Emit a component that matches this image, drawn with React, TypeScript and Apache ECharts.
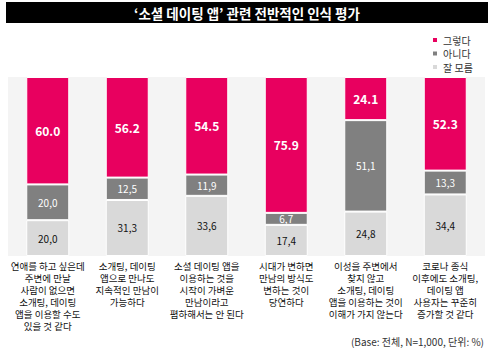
import React, { useEffect, useRef } from "react";
import * as echarts from "echarts";

const categories = [
  "연애를 하고 싶은데\n주변에 만날\n사람이 없으면\n소개팅, 데이팅\n앱을 이용할 수도\n있을 것 같다",
  "소개팅, 데이팅\n앱으로 만나도\n지속적인 만남이\n가능하다",
  "소셜 데이팅 앱을\n이용하는 것을\n시작이 가벼운\n만남이라고\n폄하해서는 안 된다",
  "시대가 변하면\n만남의 방식도\n변하는 것이\n당연하다",
  "이성을 주변에서\n찾지 않고\n소개팅, 데이팅\n앱을 이용하는 것이\n이해가 가지 않는다",
  "코로나 종식\n이후에도 소개팅,\n데이팅 앱\n사용자는 꾸준히\n증가할 것 같다",
];
const yesValues = [60.0, 56.2, 54.5, 75.9, 24.1, 52.3];
const noValues = [20.0, 12.5, 11.9, 6.7, 51.1, 13.3];
const unsureValues = [20.0, 31.3, 33.6, 17.4, 24.8, 34.4];
const seriesNames = ["그렇다", "아니다", "잘 모름"];
const titleText = "‘소셜 데이팅 앱’ 관련 전반적인 인식 평가";
const footnote = "(Base: 전체, N=1,000, 단위: %)";

const FONT = "'Noto Sans CJK KR', 'Noto Sans', sans-serif";

export default function App() {
  const ref = useRef<HTMLDivElement>(null);
  useEffect(() => {
    if (!ref.current) return;
    const chart = echarts.init(ref.current, undefined, { renderer: "svg" });
    const comma = (p: any) => Number(p.value).toFixed(1).replace(".", ",");
    const dot = (p: any) => Number(p.value).toFixed(1);
    chart.setOption({
      animation: false,
      backgroundColor: "#ffffff",
      textStyle: { fontFamily: FONT },
      grid: {
        left: 8,
        right: 9,
        top: 77,
        bottom: 99,
        show: true,
        backgroundColor: "#f4f4f4",
        borderWidth: 0,
      },
      legend: {
        data: [seriesNames[0], seriesNames[1], seriesNames[2]],
        orient: "vertical",
        left: 426,
        top: 29,
        itemWidth: 6,
        itemHeight: 6,
        itemGap: 1.5,
        icon: "rect",
        textStyle: { fontSize: 10, color: "#333", lineHeight: 12, fontFamily: FONT },
      },
      xAxis: {
        type: "category",
        data: categories,
        axisLine: { show: false },
        axisTick: { show: false },
        axisLabel: {
          interval: 0,
          margin: 4,
          fontSize: 9.5,
          lineHeight: 12,
          color: "#111",
          fontFamily: FONT,
        },
      },
      yAxis: {
        type: "value",
        min: 0,
        max: 100,
        show: false,
        splitLine: { show: false },
      },
      graphic: [
        {
          type: "rect",
          shape: { x: 6, y: 2, width: 482, height: 21 },
          style: { fill: "#000" },
        },
        {
          type: "text",
          x: 247,
          y: 12.5,
          style: {
            text: titleText,
            fill: "#fff",
            font: `bold 13.5px ${FONT}`,
            align: "center",
            verticalAlign: "middle",
          },
        },
        {
          type: "text",
          x: 484,
          y: 341,
          style: {
            text: footnote,
            fill: "#333",
            font: `10px ${FONT}`,
            align: "right",
            verticalAlign: "middle",
          },
        },
      ],
      series: [
        {
          name: seriesNames[2],
          type: "bar",
          stack: "all",
          data: unsureValues,
          barWidth: 43,
          itemStyle: { color: "#d9d9d9", borderColor: "#fff", borderWidth: 1 },
          label: {
            show: true,
            position: "inside",
            formatter: comma,
            color: "#111",
            fontSize: 10,
            fontFamily: FONT,
          },
        },
        {
          name: seriesNames[1],
          type: "bar",
          stack: "all",
          data: noValues,
          barWidth: 43,
          itemStyle: { color: "#808080", borderColor: "#fff", borderWidth: 1 },
          label: {
            show: true,
            position: "inside",
            formatter: comma,
            color: "#fff",
            fontSize: 10,
            fontFamily: FONT,
          },
        },
        {
          name: seriesNames[0],
          type: "bar",
          stack: "all",
          data: yesValues,
          barWidth: 43,
          itemStyle: { color: "#e8005f", borderColor: "#fff", borderWidth: 1 },
          label: {
            show: true,
            position: "inside",
            formatter: dot,
            color: "#fff",
            fontSize: 12,
            fontWeight: "bold",
            fontFamily: FONT,
          },
        },
      ],
    });
    return () => chart.dispose();
  }, []);
  return (
    <div
      ref={ref}
      style={{ position: "absolute", left: 0, top: 0, width: 494, height: 355 }}
    />
  );
}
